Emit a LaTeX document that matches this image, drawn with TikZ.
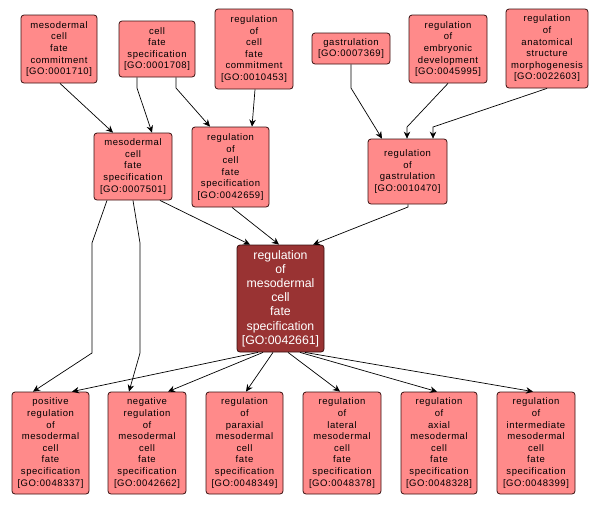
\documentclass[tikz,border=0pt]{standalone}
\usepackage{fontspec}
\setmainfont{Liberation Sans}
\newfontfamily\gofont[LetterSpace=6]{Liberation Sans}
\usetikzlibrary{arrows.meta}
\definecolor{gofill}{HTML}{FF8A8A}
\definecolor{gocenter}{HTML}{993333}
\definecolor{goedge}{HTML}{3A1010}
\tikzset{
  gobox/.style={draw=goedge, line width=0.8pt, fill=gofill, rounded corners=3pt,
    align=center, inner sep=0pt, font=\gofont\fontsize{9.5}{11.6}\selectfont, text=black},
  gomain/.style={gobox, fill=gocenter, text=white, font=\rmfamily\fontsize{12.3}{14.2}\selectfont},
  arr/.style={draw=black, line width=0.7pt, -{Stealth[length=7pt,width=6.5pt]}},
}
\begin{document}
\begin{tikzpicture}[x=1pt,y=-1pt]
\useasboundingbox (0,0) rectangle (601,504);
% top row
\node[gobox, minimum width=76, minimum height=68] (A) at (59,49) {mesodermal\\cell\\fate\\commitment\\{[GO:0001710]}};
\node[gobox, minimum width=76, minimum height=56] (B) at (157,49) {cell\\fate\\specification\\{[GO:0001708]}};
\node[gobox, minimum width=78, minimum height=80] (C) at (254,49) {regulation\\of\\cell\\fate\\commitment\\{[GO:0010453]}};
\node[gobox, minimum width=78, minimum height=31] (D) at (351,48.5) {gastrulation\\{[GO:0007369]}};
\node[gobox, minimum width=78, minimum height=68] (E) at (448,49) {regulation\\of\\embryonic\\development\\{[GO:0045995]}};
\node[gobox, minimum width=82, minimum height=79] (F) at (547,48.5) {regulation\\of\\anatomical\\structure\\morphogenesis\\{[GO:0022603]}};
% second row
\node[gobox, minimum width=78, minimum height=67] (G) at (133,166.5) {mesodermal\\cell\\fate\\specification\\{[GO:0007501]}};
\node[gobox, minimum width=77, minimum height=80] (H) at (230.5,167) {regulation\\of\\cell\\fate\\specification\\{[GO:0042659]}};
\node[gobox, minimum width=79, minimum height=65] (I) at (407.5,171.5) {regulation\\of\\gastrulation\\{[GO:0010470]}};
% center
\node[gomain, minimum width=87, minimum height=107] (J) at (280.5,298.5) {regulation\\of\\mesodermal\\cell\\fate\\specification\\{[GO:0042661]}};
% bottom row
\node[gobox, minimum width=77, minimum height=102] (K) at (50.5,443) {positive\\regulation\\of\\mesodermal\\cell\\fate\\specification\\{[GO:0048337]}};
\node[gobox, minimum width=78, minimum height=102] (L) at (147,443) {negative\\regulation\\of\\mesodermal\\cell\\fate\\specification\\{[GO:0042662]}};
\node[gobox, minimum width=77, minimum height=102] (M) at (244.5,443) {regulation\\of\\paraxial\\mesodermal\\cell\\fate\\specification\\{[GO:0048349]}};
\node[gobox, minimum width=78, minimum height=102] (N) at (342,443) {regulation\\of\\lateral\\mesodermal\\cell\\fate\\specification\\{[GO:0048378]}};
\node[gobox, minimum width=76, minimum height=102] (O) at (439,443) {regulation\\of\\axial\\mesodermal\\cell\\fate\\specification\\{[GO:0048328]}};
\node[gobox, minimum width=78, minimum height=102] (P) at (536,443) {regulation\\of\\intermediate\\mesodermal\\cell\\fate\\specification\\{[GO:0048399]}};
% edges
\draw[arr] (A.south -| 60,0) -- (G.north -| 113,0);
\draw[arr] (B.south -| 137,0) -- (137,88) -- (G.north -| 152,0);
\draw[arr] (B.south -| 176,0) -- (176,88) -- (H.north -| 210,0);
\draw[arr] (C.south -| 255,0) -- (H.north -| 252,0);
\draw[arr] (D.south -| 351,0) -- (351,88) -- (I.north -| 382,0);
\draw[arr] (E.south -| 448,0) -- (407,127) -- (I.north -| 407,0);
\draw[arr] (F.south -| 547,0) -- (433,127) -- (I.north -| 433,0);
\draw[arr] (I.south -| 408,0) -- (408,207) -- (J.north -| 313,0);
\draw[arr] (G.south -| 160,0) -- (J.north -| 250,0);
\draw[arr] (H.south -| 232,0) -- (J.north -| 279,0);
\draw[arr] (G.south -| 107,0) -- (92,243) -- (92,353) -- (K.north -| 33,0);
\draw[arr] (G.south -| 133,0) -- (140,243) -- (140,353) -- (L.north -| 129,0);
\draw[arr] (J.south -| 258,0) -- (K.north -| 72,0);
\draw[arr] (J.south -| 263,0) -- (L.north -| 168,0);
\draw[arr] (J.south -| 273,0) -- (M.north -| 246,0);
\draw[arr] (J.south -| 288,0) -- (N.north -| 340,0);
\draw[arr] (J.south -| 300,0) -- (O.north -| 437,0);
\draw[arr] (J.south -| 305,0) -- (P.north -| 533,0);
\end{tikzpicture}
\end{document}
